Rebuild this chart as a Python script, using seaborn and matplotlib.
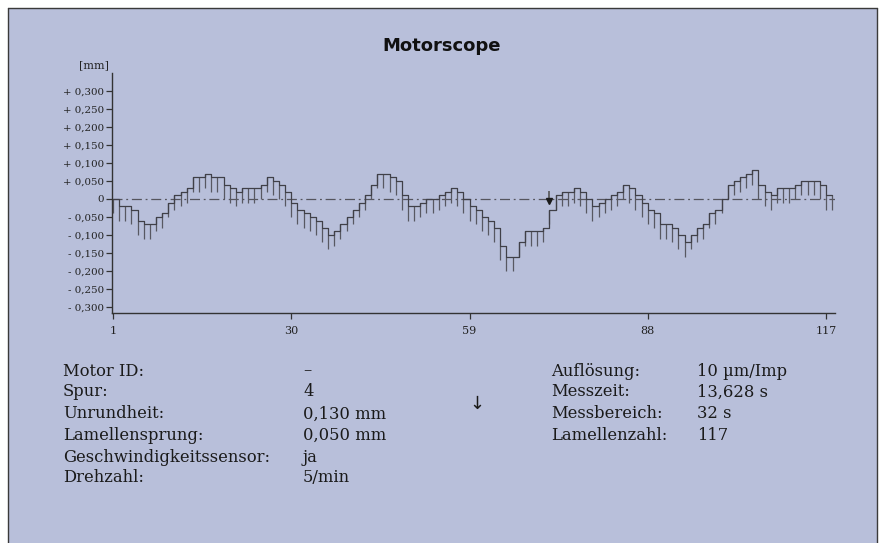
import numpy as np
import pandas as pd
import matplotlib
matplotlib.use("Agg")
import matplotlib.pyplot as plt
from matplotlib.patches import Rectangle
from matplotlib.lines import Line2D
import seaborn as sns

# ---- data -------------------------------------------------------------
bar_values = [0, -0.02, -0.02, -0.03, -0.06, -0.07, -0.07, -0.05, -0.04, -0.01,
              0.01, 0.02, 0.03, 0.06, 0.06, 0.07, 0.06, 0.06, 0.04, 0.03,
              0.02, 0.03, 0.03, 0.03, 0.04, 0.06, 0.05, 0.04, 0.02, -0.01,
              -0.03, -0.04, -0.05, -0.06, -0.08, -0.10, -0.09, -0.07, -0.05, -0.03,
              -0.01, 0.01, 0.04, 0.07, 0.07, 0.06, 0.05, 0.01, -0.02, -0.02,
              -0.01, 0.0, 0.0, 0.01, 0.02, 0.03, 0.02, 0.0, -0.02, -0.03,
              -0.05, -0.06, -0.08, -0.13, -0.16, -0.16, -0.12, -0.09, -0.09, -0.09,
              -0.08, -0.03, 0.01, 0.02, 0.02, 0.03, 0.02, 0.0, -0.02, -0.01,
              0.0, 0.01, 0.02, 0.04, 0.03, 0.01, -0.01, -0.03, -0.04, -0.07,
              -0.07, -0.08, -0.10, -0.12, -0.10, -0.08, -0.07, -0.04, -0.03, 0.0,
              0.04, 0.05, 0.06, 0.07, 0.08, 0.04, 0.02, 0.01, 0.03, 0.03,
              0.03, 0.04, 0.05, 0.05, 0.05, 0.04, 0.01]
n_bars = len(bar_values)                 # 117
jump_bar = 72                            # marked Lamellensprung
tick_depth = 0.04

x_ticks = [1, 30, 59, 88, 117]
y_ticks = [0.30, 0.25, 0.20, 0.15, 0.10, 0.05, 0.0, -0.05, -0.10, -0.15, -0.20, -0.25, -0.30]
y_tick_labels = ["+ 0,300", "+ 0,250", "+ 0,200", "+ 0,150", "+ 0,100", "+ 0,050", "0",
                 "- 0,050", "- 0,100", "- 0,150", "- 0,200", "- 0,250", "- 0,300"]

info_left_labels = ["Motor ID:", "Spur:", "Unrundheit:", "Lamellensprung:",
                    "Geschwindigkeitssensor:", "Drehzahl:"]
info_left_values = ["–", "4", "0,130 mm", "0,050 mm", "ja", "5/min"]
info_right_labels = ["Auflösung:", "Messzeit:", "Messbereich:", "Lamellenzahl:"]
info_right_values = ["10 µm/Imp", "13,628 s", "32 s", "117"]

# ---- style ------------------------------------------------------------
BG = "#B8BFDA"
sns.set_style("ticks")
plt.rcParams["font.family"] = ["DejaVu Serif", "DejaVu Sans"]

W, H = 885, 543
fig = plt.figure(figsize=(W / 100, H / 100), dpi=100, facecolor="white")

# panel background + border (left, top, right)
fig.patches.append(Rectangle((8 / W, 0), (877 - 8) / W, (H - 8) / H,
                             transform=fig.transFigure, facecolor=BG,
                             edgecolor="none", zorder=-10))
for xs, ys in [([8 / W, 8 / W], [0, 1 - 8 / H]),
               ([8 / W, 877 / W], [1 - 8 / H, 1 - 8 / H]),
               ([877 / W, 877 / W], [0, 1 - 8 / H])]:
    fig.add_artist(Line2D(xs, ys, transform=fig.transFigure, color="#3a3a3a", lw=1.0))

ax = fig.add_axes([112 / W, (H - 313) / H, (835 - 112) / W, (313 - 73) / H])
ax.set_facecolor("none")
ax.set_zorder(5)

# step curve
df = pd.DataFrame({"lamelle": np.arange(1, n_bars + 2),
                   "wert": list(bar_values) + [bar_values[-1]]})
sns.lineplot(data=df, x="lamelle", y="wert", drawstyle="steps-post",
             color="#404048", lw=0.9, ax=ax, zorder=3)

# hanging ticks at each bar start (and the end)
edges = np.arange(1, n_bars + 2)
tops = np.array(list(bar_values) + [bar_values[-1]])
ax.vlines(edges, tops - tick_depth, tops, color="#585862", lw=0.9, zorder=2)

# zero line
ax.axhline(0, color="#55555e", lw=0.9, ls=(0, (8, 3, 1.5, 3)), zorder=1)

# jump marker
ax.vlines(jump_bar, -0.002, 0.022, color="#555", lw=1.2, zorder=4)
ax.plot([jump_bar], [-0.006], marker="v", color="#1a1a1a", ms=5, zorder=5)

ax.set_xlim(0.84, 118.46)
ax.set_ylim(-0.317, 0.35)
ax.set_xticks(x_ticks)
ax.set_xticklabels([str(t) for t in x_ticks])
ax.set_yticks(y_ticks)
ax.set_yticklabels(y_tick_labels)
ax.set_xlabel("")
ax.set_ylabel("")
for s in ["top", "right"]:
    ax.spines[s].set_visible(False)
for s in ["left", "bottom"]:
    ax.spines[s].set_color("#333333")
    ax.spines[s].set_linewidth(1.0)
ax.tick_params(axis="y", colors="#333333", labelsize=7.4, length=4, width=0.9,
               labelcolor="#222222", pad=2)
ax.tick_params(axis="x", colors="#333333", labelsize=8, length=4, width=0.9,
               labelcolor="#222222", pad=5)

fig.text(94 / W, 1 - 65 / H, "[mm]", ha="center", va="center", fontsize=8, color="#222")
fig.text(442 / W, 1 - 46 / H, "Motorscope", ha="center", va="center",
         fontsize=13, fontweight="bold", family="DejaVu Sans", color="#111")

rows = [371, 392, 414, 435, 457, 478]
fs = 11.8
for i, (lab, val) in enumerate(zip(info_left_labels, info_left_values)):
    fig.text(63 / W, 1 - rows[i] / H, lab, ha="left", va="center", fontsize=fs, color="#1a1a1a")
    fig.text(303 / W, 1 - rows[i] / H, val, ha="left", va="center", fontsize=fs, color="#1a1a1a")
for i, (lab, val) in enumerate(zip(info_right_labels, info_right_values)):
    fig.text(551 / W, 1 - rows[i] / H, lab, ha="left", va="center", fontsize=fs, color="#1a1a1a")
    fig.text(697 / W, 1 - rows[i] / H, val, ha="left", va="center", fontsize=fs, color="#1a1a1a")
fig.text(477 / W, 1 - 404 / H, "↓", ha="center", va="center", fontsize=13,
         family="DejaVu Sans", color="#1a1a1a")

fig.savefig("out.png", dpi=100, facecolor="white")
